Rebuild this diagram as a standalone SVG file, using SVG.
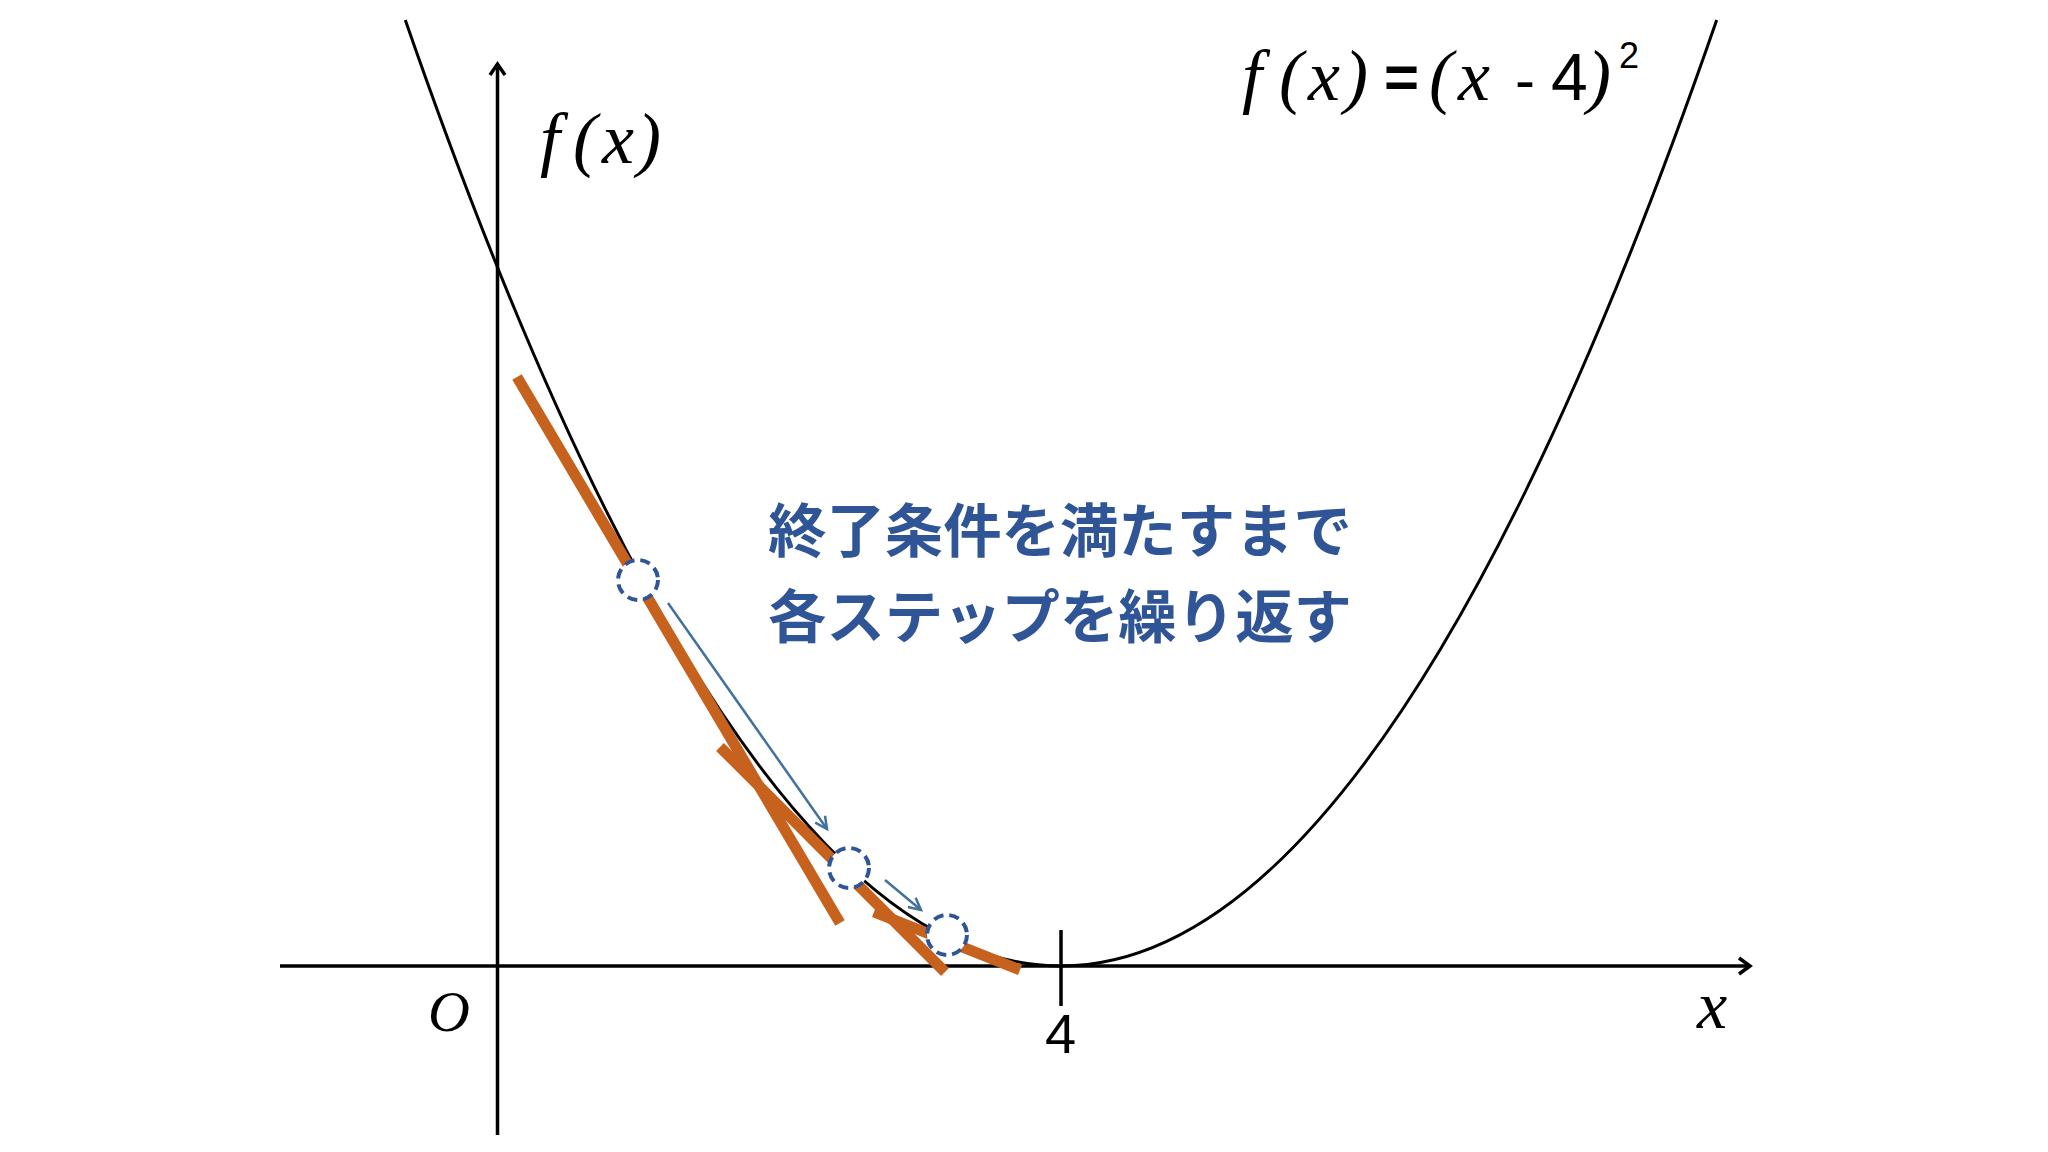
<svg xmlns="http://www.w3.org/2000/svg" width="2048" height="1152" viewBox="0 0 2048 1152">
<style>
.ax{stroke:#000;stroke-width:3.5;fill:none}
.curve{stroke:#000;stroke-width:3;fill:none}
.tan{stroke:#C6621E;stroke-width:11;fill:none;stroke-linecap:butt}
.pt{fill:#fff;stroke:#2F5597;stroke-width:4;stroke-dasharray:10 6}
.step{stroke:#41719C;stroke-width:2.5;fill:none}
.it{font-family:"Liberation Serif","Times New Roman",serif;font-style:italic;fill:#000}
.rm{font-family:"Liberation Serif","Times New Roman",serif;fill:#000}
.sn{font-family:"Liberation Sans",Arial,sans-serif;fill:#000}
.jp{font-family:"Noto Sans CJK JP",sans-serif;font-weight:bold;fill:#2F5597;font-size:58.4px}
</style>
<defs>
<marker id="ah" markerUnits="userSpaceOnUse" markerWidth="16" markerHeight="16" refX="13" refY="7" orient="auto">
<path d="M1,1 L13,7 L1,13" fill="none" stroke="#41719C" stroke-width="2.5"/>
</marker>
</defs>
<rect width="2048" height="1152" fill="#fff"/>
<g id="axes">
<line class="ax" x1="280" y1="966" x2="1750" y2="966"/>
<polyline class="ax" points="1739,958 1750,966 1739,974"/>
<line class="ax" x1="497.5" y1="1135" x2="497.5" y2="64"/>
<polyline class="ax" points="490,75 497.5,64 505,75"/>
<line class="ax" x1="1061" y1="930" x2="1061" y2="1006"/>
</g>
<g id="curve">
<path class="curve" d="M405.3,20 Q1061,1912 1716.7,20"/>
</g>
<g id="tangents">
<line class="tan" x1="517" y1="377" x2="840" y2="923"/>
<line class="tan" x1="720" y1="747" x2="945" y2="972"/>
<line class="tan" x1="874" y1="912" x2="1020" y2="970"/>
</g>
<g id="connectors">
<line class="step" x1="668" y1="603" x2="827" y2="829" marker-end="url(#ah)"/>
<line class="step" x1="885" y1="880" x2="921" y2="910" marker-end="url(#ah)"/>
</g>
<g id="point1"><circle class="pt" cx="638" cy="580" r="20"/></g>
<g id="point2"><circle class="pt" cx="849" cy="868" r="20"/></g>
<g id="point3"><circle class="pt" cx="947" cy="935" r="20"/></g>
<g id="labels">
<text class="it" font-size="72" y="163"><tspan x="540">f</tspan><tspan x="573">(</tspan><tspan x="602">x</tspan><tspan x="637">)</tspan></text>
<text class="it" font-size="72" y="100"><tspan x="1242">f</tspan><tspan x="1279">(</tspan><tspan x="1308">x</tspan><tspan x="1344">)</tspan><tspan x="1429">(</tspan><tspan x="1458">x</tspan><tspan x="1587">)</tspan></text>
<text class="sn" font-size="60" font-weight="bold" x="1384" y="97">=</text>
<text class="sn" font-size="60" x="1515" y="100">-</text>
<text class="sn" font-size="66" x="1551" y="100">4</text>
<text class="sn" font-size="36" x="1619" y="68">2</text>
<text class="it" font-size="58" x="428" y="1031">O</text>
<text class="sn" font-size="56" x="1045" y="1053">4</text>
<text class="it" font-size="68" x="1697" y="1028">x</text>
</g>
<g id="note">
<text class="jp" x="768" y="552">終了条件を満たすまで</text>
<text class="jp" x="768" y="638">各ステップを繰り返す</text>
</g>
</svg>
